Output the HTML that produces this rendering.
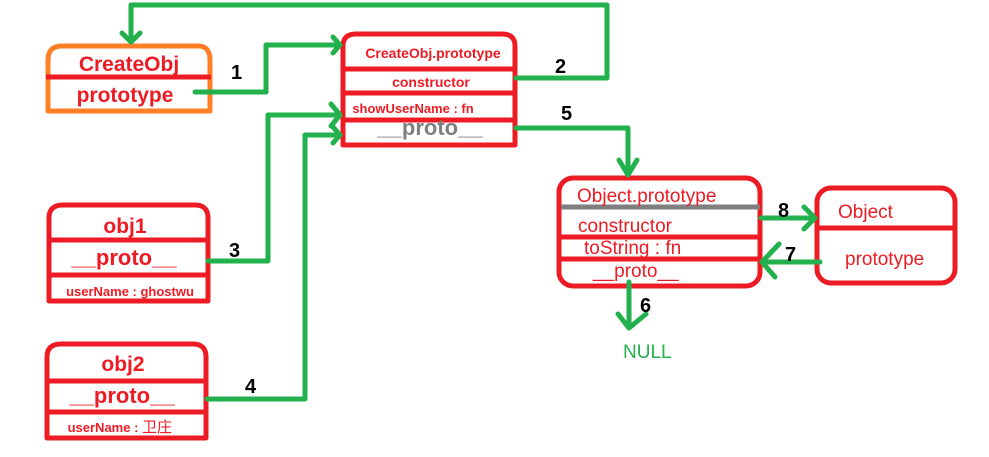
<!DOCTYPE html>
<html><head><style>body{margin:0;background:#fff}svg{display:block}text{font-family:"Liberation Sans","Noto Sans CJK SC",sans-serif}</style></head><body>
<svg width="989" height="457" viewBox="0 0 989 457">
<g fill="none" stroke-width="5" stroke-linejoin="round">
<path d="M48 111 V60 Q48 46 62 46 H198 Q210 46 210 60 V111 Z" stroke="#ff7f27"/>
<line x1="46" y1="77" x2="211" y2="77" stroke="#ed1c24"/>
<path d="M343 145 V46 Q343 34 356 34 H502 Q515 34 515 46 V145 Z" stroke="#ed1c24"/>
<line x1="343" y1="69" x2="515" y2="69" stroke="#ed1c24"/>
<line x1="343" y1="93" x2="515" y2="93" stroke="#ed1c24"/>
<line x1="343" y1="120" x2="515" y2="120" stroke="#ed1c24"/>
<path d="M49 301 V218 Q49 205 63 205 H195 Q208 205 208 218 V301 Z" stroke="#ed1c24"/>
<line x1="49" y1="240" x2="208" y2="240" stroke="#ed1c24"/>
<line x1="49" y1="275" x2="208" y2="275" stroke="#ed1c24"/>
<path d="M47 438 V357 Q47 344 61 344 H193 Q206 344 206 357 V438 Z" stroke="#ed1c24"/>
<line x1="47" y1="381" x2="206" y2="381" stroke="#ed1c24"/>
<line x1="47" y1="412" x2="206" y2="412" stroke="#ed1c24"/>
<rect x="559" y="178" width="201" height="108" rx="14" stroke="#ed1c24"/>
<line x1="561" y1="207" x2="760" y2="207" stroke="#7f7f7f"/>
<line x1="561" y1="237" x2="762" y2="237" stroke="#ed1c24"/>
<line x1="561" y1="259" x2="760" y2="259" stroke="#ed1c24"/>
<rect x="817" y="188" width="138" height="95" rx="14" stroke="#ed1c24"/>
<line x1="819" y1="228" x2="955" y2="228" stroke="#ed1c24"/>
<g stroke="#22b14c" stroke-linecap="round">
<path d="M195 92 H266 V45 H340 M333 37 L340 45 L333 53"/>
<path d="M516 78 H607 V5 H131 V42 M122 33 L131 42 L140 33"/>
<path d="M208 261 H268 V115 H340 M331 104 L340 115 L331 126"/>
<path d="M207 399 H305 V135 H340 M333 127 L340 135 L333 143"/>
<path d="M516 128 H628 V175 M619 160 L628 175 L637 160"/>
<path d="M761 218 H815 M804 207 L815 218 L804 229"/>
<path d="M820 262 H762 M779 244 L762 262 L775 277"/>
<path d="M629 282 V328 M618 314 L629 328 L646 314"/>
</g>
</g>
<g fill="#ed1c24" font-weight="bold" text-anchor="middle">
<text x="129" y="71" font-size="21">CreateObj</text>
<text x="125" y="102" font-size="21">prototype</text>
<text x="433" y="58" font-size="14">CreateObj.prototype</text>
<text x="431" y="87" font-size="14">constructor</text>
<text x="413" y="113" font-size="13">showUserName : fn</text>
<text x="125" y="233" font-size="21">obj1</text>
<text x="124" y="265" font-size="22">__proto__</text>
<text x="130" y="296" font-size="13">userName : ghostwu</text>
<text x="123" y="371" font-size="21">obj2</text>
<text x="122" y="403" font-size="22">__proto__</text>
<text x="103" y="432" font-size="13">userName :</text>
<text x="157" y="432" font-size="15" font-weight="normal">卫庄</text>
</g>
<text x="430" y="135" font-size="22" font-weight="bold" fill="#7f7f7f" text-anchor="middle">__proto__</text>
<g fill="#ed1c24" font-size="19">
<text x="577" y="202">Object.prototype</text>
<text x="578" y="232">constructor</text>
<text x="584" y="254">toString : fn</text>
<text x="593" y="277">__proto__</text>
<text x="838" y="218">Object</text>
<text x="845" y="265">prototype</text>
</g>
<text x="623" y="358" font-size="19" fill="#22b14c">NULL</text>
<g font-weight="bold" font-size="20" fill="#000">
<text x="231" y="79">1</text>
<text x="555" y="73">2</text>
<text x="229" y="257">3</text>
<text x="245" y="393">4</text>
<text x="561" y="120">5</text>
<text x="640" y="312">6</text>
<text x="785" y="261">7</text>
<text x="778" y="217">8</text>
</g>
</svg>
</body></html>
